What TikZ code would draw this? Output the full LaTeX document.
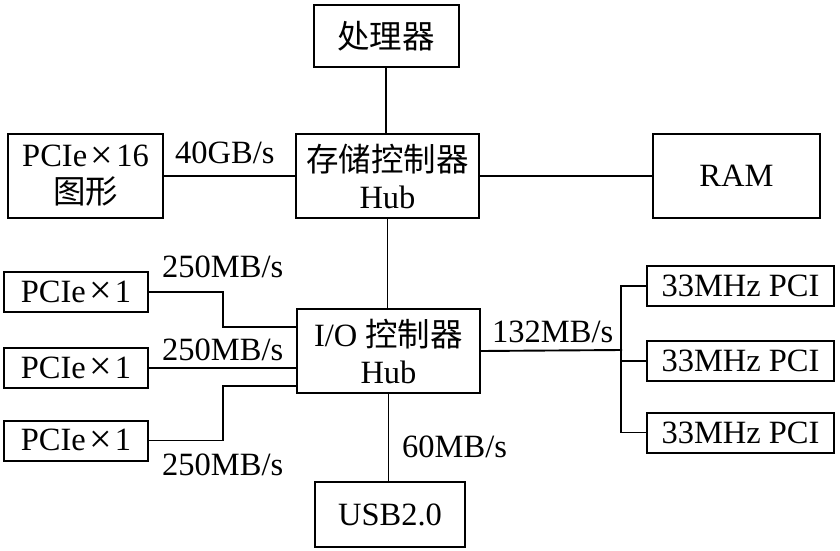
\documentclass[tikz,border=0pt]{standalone}
\usepackage{fontspec}
\setmainfont{Liberation Serif}
\newfontfamily\cjk{Noto Sans CJK SC}
\newcommand{\zh}[1]{{\cjk #1}}
\newcommand{\by}{\kern0.1em\raisebox{-1.5pt}{\fontsize{40}{40}\selectfont ×}\kern0.1em}
\begin{document}
\begin{tikzpicture}[
    x=1pt, y=1pt,
    font=\fontsize{32.5}{37}\selectfont,
    blk/.style={draw, line width=2pt, inner sep=0pt, align=center},
    wire/.style={line width=1.9pt},
    rate/.style={inner sep=0pt, anchor=base west}
  ]
  \useasboundingbox (0,0) rectangle (840,550);

  % 上层:处理器、存储控制器 Hub
  \node[blk, minimum width=145pt, minimum height=62pt] (cpu) at (386,514) {\zh{处理器}};
  \node[blk, minimum width=183pt, minimum height=84pt] (mch) at (387.5,374) {\zh{存储控制器}\\Hub};
  \node[blk, minimum width=155pt, minimum height=84pt] (gfx) at (85.5,374) {PCIe\by16\\\zh{图形}};
  \node[blk, minimum width=167pt, minimum height=84pt] (ram) at (736.5,374) {RAM};

  % 中层:I/O 控制器 Hub
  \node[blk, minimum width=183pt, minimum height=84pt] (ich) at (388.5,199) {I/O \zh{控制器}\\Hub};

  % 左侧 PCIe x1 插槽
  \node[blk, minimum width=144pt, minimum height=40pt] (pcieA) at (76,258)   {PCIe\by1};
  \node[blk, minimum width=144pt, minimum height=40pt] (pcieB) at (76,182)   {PCIe\by1};
  \node[blk, minimum width=144pt, minimum height=40pt] (pcieC) at (76,109.5) {PCIe\by1};

  % 右侧 PCI 插槽
  \node[blk, minimum width=187pt, minimum height=40pt] (pciA) at (740.5,264)   {33MHz PCI};
  \node[blk, minimum width=187pt, minimum height=40pt] (pciB) at (740.5,189)   {33MHz PCI};
  \node[blk, minimum width=187pt, minimum height=40pt] (pciC) at (740.5,117.5) {33MHz PCI};

  % 下层:USB
  \node[blk, minimum width=150pt, minimum height=65pt] (usb) at (390,35.5) {USB2.0};

  % 连线
  \draw[wire] (cpu.south) -- (cpu.south |- mch.north);
  \draw[wire] (gfx.east) -- (mch.west);
  \draw[wire] (mch.east) -- (ram.west);
  \draw[wire] (mch.south) -- (mch.south |- ich.north);
  \draw[wire] (ich.south) -- (ich.south |- usb.north);

  \draw[wire] (pcieA.east) -- ++(74,0) |- ([yshift=24pt]ich.west);
  \draw[wire] (pcieB.east) -- (pcieB.east -| ich.west);
  \draw[wire] (pcieC.east) -- ++(74,0) |- ([yshift=-35pt]ich.west);

  % PCI 总线
  \coordinate (bus) at (622,200);
  \draw[wire] (ich.east) -- (bus);
  \draw[wire] (pciA.west) -- ++(-25,0) |- (pciC.west);
  \draw[wire] (pciB.west) -- ++(-25,0);

  % 带宽标注
  \node[rate] (bwGfx)  at (175,387) {40GB/s};
  \node[rate] (bwA)    at (162,273) {250MB/s};
  \node[rate] (bwB)    at (162,190) {250MB/s};
  \node[rate] (bwC)    at (162,75)  {250MB/s};
  \node[rate] (bwPci)  at (492,208) {132MB/s};
  \node[rate] (bwUsb)  at (402,93)  {60MB/s};
\end{tikzpicture}
\end{document}
